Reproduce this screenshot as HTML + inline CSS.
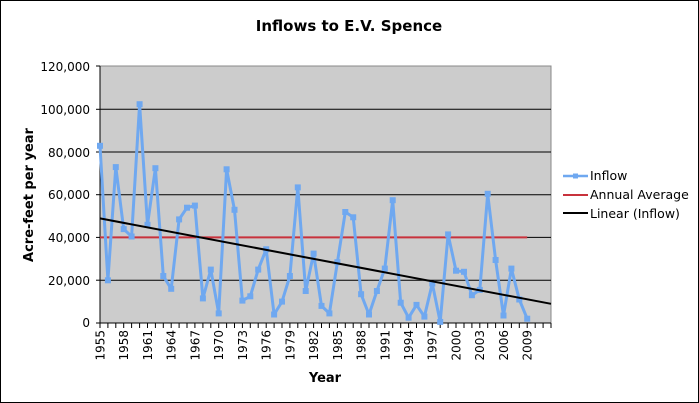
<!DOCTYPE html>
<html><head><meta charset="utf-8"><style>
html,body{margin:0;padding:0;background:#fff}
svg{display:block}
text{font-family:"DejaVu Sans","Liberation Sans",sans-serif;fill:#000}
</style></head><body>
<svg width="699" height="403" viewBox="0 0 699 403">
<rect x="0.5" y="0.5" width="698" height="402" fill="#fff" stroke="#000"/>
<text x="349" y="31" font-size="15" font-weight="bold" text-anchor="middle">Inflows to E.V. Spence</text>
<rect x="100" y="66" width="451" height="257" fill="#cccccc" stroke="#888" stroke-width="1"/>
<g stroke="#000" stroke-width="1" fill="none">
<line x1="100" y1="109.3" x2="551" y2="109.3"/>
<line x1="100" y1="152" x2="551" y2="152"/>
<line x1="100" y1="194.7" x2="551" y2="194.7"/>
<line x1="100" y1="237.4" x2="551" y2="237.4"/>
<line x1="100" y1="280.2" x2="551" y2="280.2"/>
<line x1="100" y1="323" x2="551" y2="323"/>
<line x1="100" y1="66" x2="100" y2="323"/>
<line x1="96" y1="66" x2="100" y2="66"/><line x1="96" y1="109.3" x2="100" y2="109.3"/><line x1="96" y1="152" x2="100" y2="152"/><line x1="96" y1="194.7" x2="100" y2="194.7"/><line x1="96" y1="237.4" x2="100" y2="237.4"/><line x1="96" y1="280.2" x2="100" y2="280.2"/><line x1="96" y1="323" x2="100" y2="323"/>
</g>
<g fill="#000">
<rect x="99.5" y="323" width="1" height="5"/><rect x="107.4" y="323" width="1" height="5"/><rect x="115.3" y="323" width="1" height="5"/><rect x="123.2" y="323" width="1" height="5"/><rect x="131.1" y="323" width="1" height="5"/><rect x="139.1" y="323" width="1" height="5"/><rect x="147" y="323" width="1" height="5"/><rect x="154.9" y="323" width="1" height="5"/><rect x="162.8" y="323" width="1" height="5"/><rect x="170.7" y="323" width="1" height="5"/><rect x="178.6" y="323" width="1" height="5"/><rect x="186.5" y="323" width="1" height="5"/><rect x="194.4" y="323" width="1" height="5"/><rect x="202.4" y="323" width="1" height="5"/><rect x="210.3" y="323" width="1" height="5"/><rect x="218.2" y="323" width="1" height="5"/><rect x="226.1" y="323" width="1" height="5"/><rect x="234" y="323" width="1" height="5"/><rect x="241.9" y="323" width="1" height="5"/><rect x="249.8" y="323" width="1" height="5"/><rect x="257.7" y="323" width="1" height="5"/><rect x="265.7" y="323" width="1" height="5"/><rect x="273.6" y="323" width="1" height="5"/><rect x="281.5" y="323" width="1" height="5"/><rect x="289.4" y="323" width="1" height="5"/><rect x="297.3" y="323" width="1" height="5"/><rect x="305.2" y="323" width="1" height="5"/><rect x="313.1" y="323" width="1" height="5"/><rect x="321" y="323" width="1" height="5"/><rect x="328.9" y="323" width="1" height="5"/><rect x="336.9" y="323" width="1" height="5"/><rect x="344.8" y="323" width="1" height="5"/><rect x="352.7" y="323" width="1" height="5"/><rect x="360.6" y="323" width="1" height="5"/><rect x="368.5" y="323" width="1" height="5"/><rect x="376.4" y="323" width="1" height="5"/><rect x="384.3" y="323" width="1" height="5"/><rect x="392.2" y="323" width="1" height="5"/><rect x="400.2" y="323" width="1" height="5"/><rect x="408.1" y="323" width="1" height="5"/><rect x="416" y="323" width="1" height="5"/><rect x="423.9" y="323" width="1" height="5"/><rect x="431.8" y="323" width="1" height="5"/><rect x="439.7" y="323" width="1" height="5"/><rect x="447.6" y="323" width="1" height="5"/><rect x="455.5" y="323" width="1" height="5"/><rect x="463.5" y="323" width="1" height="5"/><rect x="471.4" y="323" width="1" height="5"/><rect x="479.3" y="323" width="1" height="5"/><rect x="487.2" y="323" width="1" height="5"/><rect x="495.1" y="323" width="1" height="5"/><rect x="503" y="323" width="1" height="5"/><rect x="510.9" y="323" width="1" height="5"/><rect x="518.8" y="323" width="1" height="5"/><rect x="526.7" y="323" width="1" height="5"/><rect x="534.7" y="323" width="1" height="5"/><rect x="542.6" y="323" width="1" height="5"/><rect x="550.5" y="323" width="1" height="5"/>
</g>
<g font-size="12" text-anchor="end">
<text x="90" y="71">120,000</text><text x="90" y="114">100,000</text><text x="90" y="157">80,000</text><text x="90" y="199">60,000</text><text x="90" y="242">40,000</text><text x="90" y="285">20,000</text><text x="90" y="327">0</text>
</g>
<g transform="rotate(-90)" font-size="12">
<text x="-330" y="104.5" text-anchor="end">1955</text>
<text x="-330" y="128.2" text-anchor="end">1958</text>
<text x="-330" y="152" text-anchor="end">1961</text>
<text x="-330" y="175.7" text-anchor="end">1964</text>
<text x="-330" y="199.4" text-anchor="end">1967</text>
<text x="-330" y="223.2" text-anchor="end">1970</text>
<text x="-330" y="246.9" text-anchor="end">1973</text>
<text x="-330" y="270.6" text-anchor="end">1976</text>
<text x="-330" y="294.3" text-anchor="end">1979</text>
<text x="-330" y="318.1" text-anchor="end">1982</text>
<text x="-330" y="341.8" text-anchor="end">1985</text>
<text x="-330" y="365.5" text-anchor="end">1988</text>
<text x="-330" y="389.3" text-anchor="end">1991</text>
<text x="-330" y="413" text-anchor="end">1994</text>
<text x="-330" y="436.7" text-anchor="end">1997</text>
<text x="-330" y="460.5" text-anchor="end">2000</text>
<text x="-330" y="484.2" text-anchor="end">2003</text>
<text x="-330" y="507.9" text-anchor="end">2006</text>
<text x="-330" y="531.7" text-anchor="end">2009</text>
<text x="-195" y="33" text-anchor="middle" font-size="13" font-weight="bold">Acre-feet per year</text>
</g>
<text x="325" y="382" font-size="13" font-weight="bold" text-anchor="middle">Year</text>
<line x1="100" y1="237.4" x2="527.2" y2="237.4" stroke="#c8323c" stroke-width="2"/>
<polyline fill="none" stroke="#6fa8f0" stroke-width="3" stroke-linejoin="round" points="100,145.8 107.9,280.3 115.8,167.1 123.7,229.1 131.6,236.5 139.6,104.2 147.5,224.8 155.4,168.2 163.3,276 171.2,288.8 179.1,219.4 187,207.7 194.9,205.6 202.9,298.4 210.8,269.6 218.7,313.4 226.6,169.3 234.5,209.8 242.4,300.6 250.3,296.3 258.2,269.6 266.2,249.3 274.1,314.5 282,301.6 289.9,276 297.8,187.4 305.7,291 313.6,253.6 321.5,305.9 329.4,313.4 337.4,262.2 345.3,212 353.2,217.3 361.1,294.2 369,314.5 376.9,291 384.8,268.6 392.7,200.2 400.7,302.7 408.6,317.7 416.5,304.9 424.4,316.6 432.3,283.5 440.2,321.9 448.1,234.4 456,270.7 464,271.8 471.9,295.2 479.8,289.9 487.7,193.8 495.6,260 503.5,315.5 511.4,268.6 519.3,299.5 527.2,318.7"/>
<g fill="#6fa8f0">
<rect x="97" y="142.8" width="6" height="6"/><rect x="104.9" y="277.3" width="6" height="6"/><rect x="112.8" y="164.1" width="6" height="6"/><rect x="120.7" y="226.1" width="6" height="6"/><rect x="128.6" y="233.5" width="6" height="6"/><rect x="136.6" y="101.2" width="6" height="6"/><rect x="144.5" y="221.8" width="6" height="6"/><rect x="152.4" y="165.2" width="6" height="6"/><rect x="160.3" y="273" width="6" height="6"/><rect x="168.2" y="285.8" width="6" height="6"/><rect x="176.1" y="216.4" width="6" height="6"/><rect x="184" y="204.7" width="6" height="6"/><rect x="191.9" y="202.6" width="6" height="6"/><rect x="199.9" y="295.4" width="6" height="6"/><rect x="207.8" y="266.6" width="6" height="6"/><rect x="215.7" y="310.4" width="6" height="6"/><rect x="223.6" y="166.3" width="6" height="6"/><rect x="231.5" y="206.8" width="6" height="6"/><rect x="239.4" y="297.6" width="6" height="6"/><rect x="247.3" y="293.3" width="6" height="6"/><rect x="255.2" y="266.6" width="6" height="6"/><rect x="263.2" y="246.3" width="6" height="6"/><rect x="271.1" y="311.5" width="6" height="6"/><rect x="279" y="298.6" width="6" height="6"/><rect x="286.9" y="273" width="6" height="6"/><rect x="294.8" y="184.4" width="6" height="6"/><rect x="302.7" y="288" width="6" height="6"/><rect x="310.6" y="250.6" width="6" height="6"/><rect x="318.5" y="302.9" width="6" height="6"/><rect x="326.4" y="310.4" width="6" height="6"/><rect x="334.4" y="259.2" width="6" height="6"/><rect x="342.3" y="209" width="6" height="6"/><rect x="350.2" y="214.3" width="6" height="6"/><rect x="358.1" y="291.2" width="6" height="6"/><rect x="366" y="311.5" width="6" height="6"/><rect x="373.9" y="288" width="6" height="6"/><rect x="381.8" y="265.6" width="6" height="6"/><rect x="389.7" y="197.2" width="6" height="6"/><rect x="397.7" y="299.7" width="6" height="6"/><rect x="405.6" y="314.7" width="6" height="6"/><rect x="413.5" y="301.9" width="6" height="6"/><rect x="421.4" y="313.6" width="6" height="6"/><rect x="429.3" y="280.5" width="6" height="6"/><rect x="437.2" y="318.9" width="6" height="6"/><rect x="445.1" y="231.4" width="6" height="6"/><rect x="453" y="267.7" width="6" height="6"/><rect x="461" y="268.8" width="6" height="6"/><rect x="468.9" y="292.2" width="6" height="6"/><rect x="476.8" y="286.9" width="6" height="6"/><rect x="484.7" y="190.8" width="6" height="6"/><rect x="492.6" y="257" width="6" height="6"/><rect x="500.5" y="312.5" width="6" height="6"/><rect x="508.4" y="265.6" width="6" height="6"/><rect x="516.3" y="296.5" width="6" height="6"/><rect x="524.2" y="315.7" width="6" height="6"/>
</g>
<line x1="100" y1="218.4" x2="551" y2="303.8" stroke="#000" stroke-width="2"/>
<line x1="563" y1="176" x2="588" y2="176" stroke="#6fa8f0" stroke-width="2.5"/>
<rect x="573" y="173.5" width="5" height="5" fill="#6fa8f0"/>
<line x1="563" y1="195" x2="588" y2="195" stroke="#c8323c" stroke-width="2"/>
<line x1="563" y1="213" x2="588" y2="213" stroke="#000" stroke-width="2"/>
<g font-size="12.5">
<text x="590" y="180">Inflow</text><text x="590" y="199">Annual Average</text><text x="590" y="218">Linear (Inflow)</text>
</g>
</svg>
</body></html>
